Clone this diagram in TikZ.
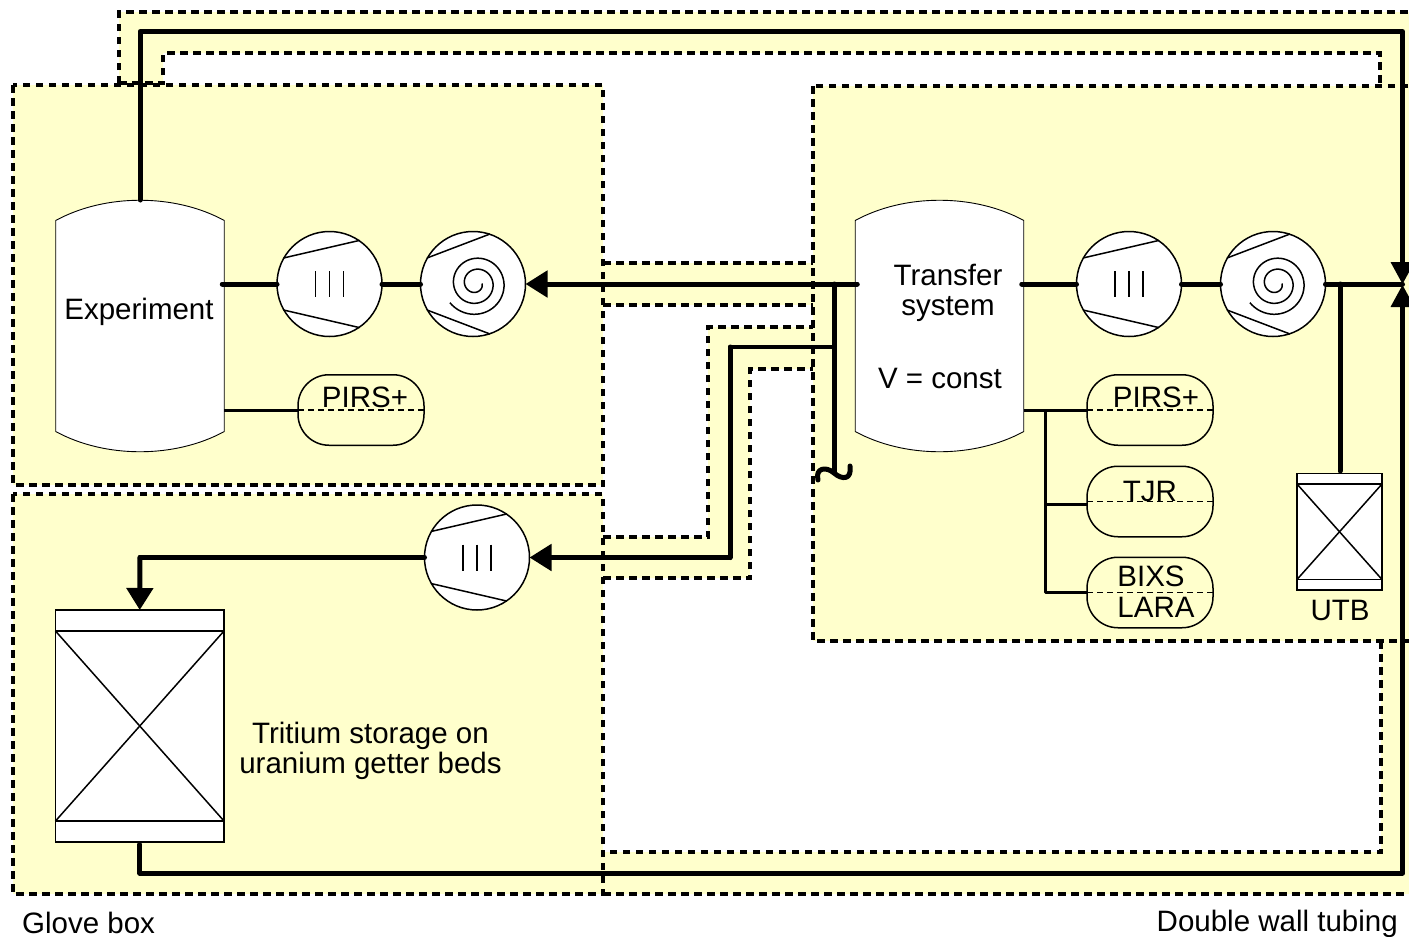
\documentclass[tikz,border=0pt]{standalone}
\usepackage{fontspec}
\setmainfont{Liberation Sans}
\usetikzlibrary{arrows.meta}
\definecolor{tubeyellow}{HTML}{FFFFCC}
\tikzset{
  boxfill/.style={fill=tubeyellow},
  tubedash/.style={draw=black,line width=3.2pt,dash pattern=on 7.5pt off 5.5pt},
  pipe/.style={line width=5pt,line cap=round,line join=round},
  midpipe/.style={line width=3.6pt,line cap=round,line join=round},
  signal/.style={line width=3pt,line join=round},
  flow/.style={-{Triangle[length=22pt,width=26pt]}},
  thinline/.style={line width=1.5pt},
  label/.style={font=\fontsize{29.5}{30}\selectfont,inner sep=0pt,text=black,align=center},
  vesselbox/.style={minimum width=168.5pt,minimum height=252pt,inner sep=0pt,outer sep=0pt},
  pumpbody/.style={circle,draw=black,fill=white,line width=1.5pt,minimum size=105pt,inner sep=0pt,outer sep=0pt},
  pill/.style={draw=black,line width=1.5pt,rounded corners=31pt,minimum width=126pt,minimum height=70.5pt,inner sep=0pt,outer sep=0pt},
  pilldash/.style={line width=1.2pt,dash pattern=on 6pt off 4pt},
  bedbox/.style={draw=black,fill=white,line width=1.5pt,inner sep=0pt,outer sep=0pt},
}
\newcommand{\vesselat}[2]{%
  \node[vesselbox] (#1) at (#2,326) {};
  \draw[fill=white,line width=0.9pt,shift={(#1.center)}]
    (-84.25,-105.5) .. controls (-35,-132.5) and (35,-132.5) .. (84.25,-105.5)
    -- (84.25,105.5) .. controls (35,132.5) and (-35,132.5) .. (-84.25,105.5) -- cycle;
}
\newcommand{\pumpchords}[3]{%
  \draw[thinline,shift={(#1.center)}] (-46,-26) -- (#2,-#3) (-46,26) -- (#2,#3);
}
\newcommand{\rootspump}[3]{%
  \node[pumpbody] (#1) at (#2,#3) {};
  \pumpchords{#1}{30}{43.6}
  \draw[thinline,shift={(#1.center)}] (-14,-13) -- (-14,13) (0,-13) -- (0,13) (14,-13) -- (14,13);
}
\newcommand{\scrollpump}[3]{%
  \node[pumpbody] (#1) at (#2,#3) {};
  \pumpchords{#1}{17}{50}
  \draw[thinline,shift={(#1.center)}] plot[domain=0:2.4,samples=140,smooth]
    ({3+(6+11*\x)*cos(360*\x)},{-0.5+(6+11*\x)*sin(360*\x)});
}
\newcommand{\bed}[6]{% name, left, top, right, bottom, inset
  \node[bedbox,minimum width=#4pt-#2pt,minimum height=#5pt-#3pt] (#1) at ({(#2+#4)/2},{(#3+#5)/2}) {};
  \draw[thinline] (#1.north west) ++(0,#6) coordinate (#1a) -- (#1a -| #1.east) coordinate (#1b);
  \draw[thinline] (#1.south west) ++(0,-#6) coordinate (#1c) -- (#1c -| #1.east) coordinate (#1d);
  \draw[thinline] (#1a) -- (#1d) (#1b) -- (#1c);
}
\begin{document}
\begin{tikzpicture}[x=1pt,y=-1pt]
\useasboundingbox (0,0) rectangle (1409,937);
\clip (0,0) rectangle (1409,937);
% yellow areas
\fill[boxfill] (13,85) rectangle (603,485);
\fill[boxfill] (13,494) rectangle (603,894);
\fill[boxfill] (813,86) rectangle (1420,641);
\fill[boxfill] (119,84) -- (119,12) -- (1420,12) -- (1420,86) -- (1380,86) -- (1380,53) -- (163,53) -- (163,84) -- cycle;
\fill[boxfill] (1381,641) -- (1420,641) -- (1420,894) -- (603,894) -- (603,852) -- (1381,852) -- cycle;
\fill[boxfill] (603,263) rectangle (813,305);
\fill[boxfill] (603,537) -- (708,537) -- (708,327) -- (813,327) -- (813,369) -- (750,369) -- (750,578) -- (603,578) -- cycle;
% dashed outlines
\draw[tubedash] (119,83) -- (119,12) -- (1420,12);
\draw[tubedash] (119,83) -- (163,83) -- (163,53) -- (1380,53) -- (1380,86);
\draw[tubedash] (1381,641) -- (1381,852) -- (605,852);
\draw[tubedash] (603,894) -- (1420,894);
\draw[tubedash] (603,263) -- (813,263);
\draw[tubedash] (603,305) -- (813,305);
\draw[tubedash] (603,537) -- (708,537) -- (708,327) -- (813,327);
\draw[tubedash] (603,578) -- (750,578) -- (750,369) -- (813,369);
\draw[tubedash] (13,85) rectangle (603,485);
\draw[tubedash] (13,494) rectangle (603,894);
\draw[tubedash] (813,86) rectangle (1420,641);
% equipment
\vesselat{exp}{140}
\vesselat{trans}{939.5}
\rootspump{pa}{329.5}{284}
\scrollpump{pb}{473}{284}
\rootspump{pc}{1129}{284}
\scrollpump{pd}{1273}{284}
\rootspump{pe}{477}{557.5}
\bed{store}{55.5}{610}{224}{842}{21}
\bed{utb}{1297}{473.5}{1382}{590}{10.5}
\node[pill] (pirsa) at (361,410) {};
\node[pill] (pirsb) at (1150,410) {};
\node[pill] (tjr) at (1150,501.5) {};
\node[pill] (bixs) at (1150,592.5) {};
\foreach \p in {pirsa,pirsb,tjr,bixs}{\draw[pilldash] (\p.west) -- (\p.east);}
% free ends and bends
\coordinate (valve) at (1402.5,284);
\coordinate (topleft) at (exp.north |- 0,31.5);
\coordinate (topright) at (1402.5,31.5);
\coordinate (bottomleft) at (store.south |- 0,873);
\coordinate (bottomright) at (1402.5,873);
\coordinate (junctionA) at (834,284);
\coordinate (junctionB) at (834,347);
\coordinate (junctionC) at (1045,410);
\coordinate (junctionD) at (1340,284);
\coordinate (sniff) at (834,473);
\coordinate (bendA) at (730,347);
\coordinate (bendB) at (730,557.5);
\coordinate (bendC) at (exp.center |- pe);
% thick pipes
\draw[pipe] (exp.north) -- (topleft) -- (topright) -- (valve |- 0,262);
\draw[pipe,shorten <=2.5pt] (store.south) -- (bottomleft) -- (bottomright) -- (valve |- 0,307);
\fill (1390.5,262) -- (1414.5,262) -- (valve) -- cycle;
\fill (1390.5,307) -- (1414.5,307) -- (1402.5,285) -- cycle;
\draw[pipe] (exp.east |- pa) ++(-2,0) -- (pa.west);
\draw[pipe] (pa.east) -- (pb.west);
\draw[pipe,flow] (trans.west |- pb) ++(2,0) -- (pb.east);
\draw[pipe] (trans.east |- pc) ++(-2,0) -- (pc.west);
\draw[pipe] (pc.east) -- (pd.west);
\draw[pipe] (pd.east) -- (valve);
\draw[pipe,shorten >=2.5pt] (junctionD) -- (junctionD |- utb.north);
\draw[pipe] (junctionA) -- (sniff);
\draw[pipe] (818,480) .. controls (815,468) and (826,466) .. (sniff)
  .. controls (842,480) and (852,480) .. (850,466);
\draw[midpipe] (junctionB) -- (bendA);
\draw[pipe] (bendA) -- (bendB);
\draw[pipe,flow] (bendB) -- (pe.east);
\draw[pipe] (pe.west) -- (bendC);
\draw[pipe,flow] (bendC) -- (store.north);
% instrument lines
\draw[signal] (exp.east |- pirsa) -- (pirsa.west);
\draw[signal] (trans.east |- pirsb) -- (pirsb.west);
\draw[signal] (junctionC) -- (junctionC |- bixs) -- (bixs.west);
\draw[signal] (junctionC |- 0,504) -- (tjr.west |- 0,504);
% labels
\node[label] (lexp) at (139,312) {Experiment};
\node[label] (ltrans) at (948,293) {Transfer\\system};
\node[label,anchor=east] (lv) at (1002,378) {V = const};
\node[label] (lpa) at (365,397) {PIRS+};
\node[label] (lpb) at (1156,397) {PIRS+};
\node[label] (ltjr) at (1150,491) {TJR};
\node[label] (lbix) at (1151,576) {BIXS};
\node[label] (llar) at (1156,607) {LARA};
\node[label] (lutb) at (1340,610) {UTB};
\node[label] (ltr) at (370.5,751) {Tritium storage on\\uranium getter beds};
\node[label,anchor=west] (lglove) at (22,923) {Glove box};
\node[label,anchor=east] (ldw) at (1398,924) {Double wall tubing};
\end{tikzpicture}
\end{document}
